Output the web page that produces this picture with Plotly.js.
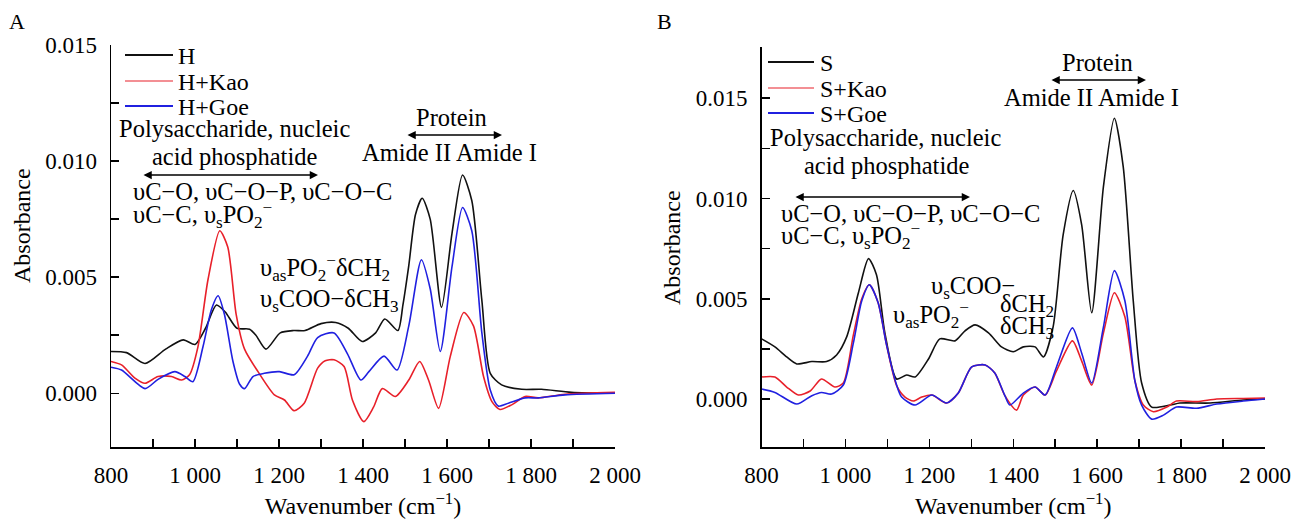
<!DOCTYPE html>
<html>
<head>
<meta charset="utf-8">
<script src="https://cdn.plot.ly/plotly-3.0.1.min.js"></script>
<style>html,body{margin:0;padding:0;background:#fff;}#chart{width:1302px;height:525px;}</style>
</head>
<body>
<div id="chart"></div>
<script>
// ---------- Panel A data ----------
const hX = [800, 837, 881, 930, 972, 1000, 1025, 1051, 1072, 1100, 1130, 1145, 1169, 1203, 1235, 1262, 1300, 1335, 1365, 1398, 1430, 1452, 1483, 1495, 1509, 1525, 1541, 1560, 1587, 1612, 1637, 1659, 1683, 1703, 1730, 1778, 1825, 1896, 2000];
const hY = [0.0018, 0.00175, 0.00128, 0.0019, 0.0023, 0.0021, 0.0028, 0.0038, 0.0035, 0.0028, 0.00276, 0.0025, 0.0019, 0.0026, 0.0027, 0.0027, 0.003, 0.00305, 0.0028, 0.00223, 0.0026, 0.0032, 0.0027, 0.0038, 0.0055, 0.0077, 0.0084, 0.0075, 0.0037, 0.0069, 0.0094, 0.0083, 0.004, 0.00086, 0.00036, 0.00017, 0.00017, 0.00004, 0.0];

const hKaoX = [800, 825, 857, 881, 912, 944, 968, 987, 1007, 1031, 1059, 1078, 1098, 1118, 1150, 1189, 1213, 1236, 1260, 1292, 1310, 1331, 1355, 1375, 1402, 1425, 1446, 1477, 1509, 1535, 1556, 1580, 1608, 1640, 1663, 1687, 1707, 1726, 1754, 1786, 1817, 1881, 2000];
const hKaoY = [0.00137, 0.00122, 0.00065, 0.00043, 0.00072, 0.00072, 0.00057, 0.0008, 0.002, 0.0049, 0.007, 0.0063, 0.0034, 0.0019, 0.00093, -0.00007, -0.00029, -0.00075, -0.00043, 0.00108, 0.0014, 0.00144, 0.00115, -0.0003, -0.00122, -0.0006, 0.0002, -0.00014, 0.00057, 0.00137, 0.00057, -0.00065, 0.0016, 0.00348, 0.0029, 0.00072, -0.00036, -0.0007, -0.0005, -0.00014, -0.0002, -0.00004, 0.00004];

const hGoeX = [800, 825, 881, 912, 952, 976, 995, 1019, 1039, 1055, 1070, 1090, 1106, 1118, 1138, 1165, 1201, 1236, 1268, 1292, 1331, 1363, 1395, 1414, 1450, 1481, 1509, 1539, 1560, 1584, 1612, 1637, 1659, 1683, 1703, 1722, 1746, 1786, 1817, 1881, 2000];
const hGoeY = [0.00112, 0.001, 0.0002, 0.0006, 0.00093, 0.00072, 0.0005, 0.002, 0.0036, 0.0042, 0.0034, 0.0014, 0.0004, 0.0002, 0.00072, 0.00086, 0.00093, 0.0008, 0.0016, 0.0024, 0.0026, 0.0017, 0.00057, 0.00093, 0.0016, 0.001, 0.0029, 0.00575, 0.0045, 0.0018, 0.00546, 0.008, 0.007, 0.0026, 0.00014, -0.00055, -0.00043, -0.0002, -0.0002, -0.00007, 0];

// ---------- Panel B data ----------
const sX = [800, 832, 860, 884, 920, 955, 979, 1003, 1031, 1055, 1074, 1094, 1122, 1146, 1166, 1198, 1225, 1261, 1285, 1309, 1341, 1372, 1400, 1424, 1452, 1472, 1495, 1519, 1543, 1563, 1587, 1615, 1641, 1662, 1686, 1706, 1730, 1774, 1797, 1869, 1948, 2000];
const sY = [0.003, 0.0026, 0.0021, 0.00175, 0.00187, 0.00187, 0.0022, 0.0031, 0.0053, 0.007, 0.0062, 0.0033, 0.001, 0.0012, 0.0011, 0.002, 0.003, 0.0029, 0.0034, 0.0037, 0.0033, 0.0026, 0.00236, 0.0026, 0.0026, 0.0021, 0.0036, 0.0082, 0.0104, 0.0087, 0.0043, 0.0106, 0.014, 0.0116, 0.0049, 0.0008, -0.0004, -0.0003, -0.0002, -0.0002, -0.00005, 0];

const sKaoX = [800, 832, 860, 888, 916, 943, 975, 995, 1019, 1039, 1057, 1078, 1098, 1122, 1142, 1162, 1182, 1206, 1241, 1269, 1301, 1333, 1356, 1380, 1408, 1424, 1452, 1476, 1503, 1541, 1563, 1587, 1615, 1641, 1666, 1690, 1710, 1734, 1766, 1789, 1837, 1885, 1948, 2000];
const sKaoY = [0.0011, 0.0011, 0.0006, 0.0002, 0.0004, 0.001, 0.0006, 0.0008, 0.0032, 0.005, 0.0057, 0.0048, 0.0027, 0.00067, 0.0001, -0.0001, 0.0001, 0.0002, -0.0002, 0.0003, 0.0016, 0.0017, 0.0013, 0.00017, -0.00055, 0.0002, 0.0006, 0.0002, 0.0014, 0.0029, 0.0019, 0.0007, 0.0033, 0.0053, 0.0041, 0.0009, -0.0003, -0.00063, -0.0004, -0.0001, -0.00013, 0, 0.00003, 0.00005];

const sGoeX = [800, 832, 884, 920, 943, 967, 995, 1019, 1039, 1057, 1078, 1098, 1122, 1134, 1166, 1206, 1241, 1269, 1301, 1333, 1356, 1380, 1392, 1424, 1452, 1476, 1503, 1541, 1563, 1587, 1615, 1641, 1666, 1690, 1706, 1730, 1758, 1789, 1837, 1885, 1948, 2000];
const sGoeY = [0.0005, 0.00033, -0.00025, 0.00017, 0.00033, 0.00025, 0.0007, 0.0028, 0.0049, 0.0057, 0.0048, 0.0027, 0.0007, 0.0001, -0.0003, 0.0002, -0.0002, 0.0003, 0.0016, 0.0017, 0.0013, 0.00017, -0.0003, 0.0003, 0.0006, 0.0002, 0.0016, 0.00355, 0.0023, 0.0008, 0.0036, 0.0064, 0.0049, 0.0009, -0.0003, -0.001, -0.0008, -0.0004, -0.00046, -0.00025, -0.0001, 0];

// ---------- names and tick labels ----------
const namesA = ['H', 'H+Kao', 'H+Goe'];
const namesB = ['S', 'S+Kao', 'S+Goe'];
const xTickVals = [800, 1000, 1200, 1400, 1600, 1800, 2000];
const xTickText = ['800', '1 000', '1 200', '1 400', '1 600', '1 800', '2 000'];
const yTickVals = [0, 0.005, 0.010, 0.015];
const yTickText = ['0.000', '0.005', '0.010', '0.015'];

// ---------- styling ----------
const W = 1302, H = 525;
const FONT = 'Liberation Serif, Times New Roman, serif';
const COLORS = ['#111111', '#e8202a', '#2020e0'];
const px = v => v / W;
const py = v => 1 - v / H;

function tr(x, y, name, color, xa, ya) {
  return {x: x, y: y, name: name, type: 'scatter', mode: 'lines',
    line: {color: color, width: 1.6, shape: 'spline', smoothing: 0.7},
    xaxis: xa, yaxis: ya, showlegend: false, hoverinfo: 'skip'};
}

const data = [
  tr(hX, hY, namesA[0], COLORS[0], 'x', 'y'),
  tr(hKaoX, hKaoY, namesA[1], COLORS[1], 'x', 'y'),
  tr(hGoeX, hGoeY, namesA[2], COLORS[2], 'x', 'y'),
  tr(sX, sY, namesB[0], COLORS[0], 'x2', 'y2'),
  tr(sKaoX, sKaoY, namesB[1], COLORS[1], 'x2', 'y2'),
  tr(sGoeX, sGoeY, namesB[2], COLORS[2], 'x2', 'y2')
];

function xaxis(dom, anchor) {
  return {domain: dom, anchor: anchor, range: [800, 2000], showgrid: false, zeroline: false,
    showline: true, linecolor: '#000', linewidth: 1.5, mirror: false,
    ticks: 'inside', ticklen: 8, tickwidth: 1.5, tickcolor: '#000',
    tickmode: 'array', tickvals: xTickVals, ticktext: xTickText, ticklabelstandoff: 7,
    minor: {tickmode: 'linear', tick0: 800, dtick: 100, ticks: 'inside', ticklen: 8, tickwidth: 1.5, tickcolor: '#000', showgrid: false},
    tickfont: {size: 23},
    title: {text: 'Wavenumber (cm<sup>−1</sup>)', font: {size: 24}, standoff: 10}};
}
function yaxis(dom, anchor, range) {
  return {domain: dom, anchor: anchor, range: range, showgrid: false, zeroline: false,
    showline: true, linecolor: '#000', linewidth: 1.5, mirror: false,
    ticks: 'inside', ticklen: 8, tickwidth: 1.5, tickcolor: '#000',
    tickmode: 'array', tickvals: yTickVals, ticktext: yTickText, ticklabelstandoff: 8,
    minor: {tickmode: 'linear', tick0: 0, dtick: 0.0025, ticks: 'inside', ticklen: 8, tickwidth: 1.5, tickcolor: '#000', showgrid: false},
    tickfont: {size: 23}};
}

const FS = 24.5;
function txt(text, x, y, xanchor, size) {
  return {text: text, xref: 'paper', yref: 'paper', x: px(x), y: py(y),
    xanchor: xanchor || 'center', yanchor: 'middle', showarrow: false, font: {size: size || FS}};
}
function arrow(x1, x2, y) {
  return {text: '', xref: 'paper', yref: 'paper', x: px(x2), y: py(y), ax: -(x2 - x1), ay: 0,
    axref: 'pixel', ayref: 'pixel', showarrow: true, arrowside: 'end+start',
    arrowhead: 2, arrowsize: 1.1, arrowwidth: 1.5, arrowcolor: '#000', standoff: 0, startstandoff: 0};
}

// manual legends (line samples + labels)
const shapes = [];
const annotations = [];
function legend(names, x0, x1, ys, tx) {
  names.forEach((n, i) => {
    shapes.push({type: 'line', xref: 'paper', yref: 'paper', x0: px(x0), x1: px(x1), y0: py(ys[i]), y1: py(ys[i]),
      line: {color: COLORS[i], width: i === 1 ? 1.2 : 1.8}});
    annotations.push(txt(n, tx, ys[i] + 1, 'left', 24));
  });
}
legend(namesA, 125, 173, [55, 81, 106], 176);
legend(namesB, 768, 814, [62, 88, 113], 818);

// y-axis titles
const yTitleA = txt('Absorbance', 22, 226, 'center', 24);
yTitleA.textangle = -90;
const yTitleB = txt('Absorbance', 672, 248, 'center', 24);
yTitleB.textangle = -90;

annotations.push(
  yTitleA, yTitleB,
  txt('A', 17, 22, 'center', 22),
  txt('B', 664, 22, 'center', 22),
  // Panel A
  txt('Polysaccharide, nucleic', 235, 128),
  txt('acid phosphatide', 234, 157),
  arrow(142, 318, 175),
  txt('υC−O, υC−O−P, υC−O−C', 131, 191, 'left'),
  txt('υC−C, υ<sub>s</sub>PO<sub>2</sub><sup>−</sup>', 131, 215, 'left'),
  txt('Protein', 452, 118),
  arrow(406, 502, 135),
  txt('Amide II Amide I', 449, 152),
  txt('υ<sub>as</sub>PO<sub>2</sub><sup>−</sup>δCH<sub>2</sub>', 258, 268, 'left'),
  txt('υ<sub>s</sub>COO−δCH<sub>3</sub>', 258, 300, 'left'),
  // Panel B
  txt('Polysaccharide, nucleic', 885, 137),
  txt('acid phosphatide', 886, 166),
  arrow(794, 970, 197),
  txt('υC−O, υC−O−P, υC−O−C', 779, 214, 'left'),
  txt('υC−C, υ<sub>s</sub>PO<sub>2</sub><sup>−</sup>', 779, 236, 'left'),
  txt('Protein', 1097, 62),
  arrow(1050, 1146, 80),
  txt('Amide II Amide I', 1091, 97),
  txt('υ<sub>s</sub>COO−', 929, 287, 'left'),
  txt('υ<sub>as</sub>PO<sub>2</sub><sup>−</sup>', 891, 315, 'left'),
  txt('δCH<sub>2</sub>', 998, 305, 'left'),
  txt('δCH<sub>3</sub>', 998, 327, 'left')
);

const layout = {
  width: W, height: H, margin: {l: 0, r: 0, t: 0, b: 0},
  paper_bgcolor: '#fff', plot_bgcolor: 'rgba(0,0,0,0)',
  font: {family: FONT, size: 23, color: '#000'},
  showlegend: false,
  xaxis: xaxis([px(111), px(615)], 'y'),
  yaxis: yaxis([1 - 447 / H, 1 - 45 / H], 'x', [-0.002315, 0.015]),
  xaxis2: xaxis([px(761.5), px(1265)], 'y2'),
  yaxis2: yaxis([1 - 447 / H, 1 - 47 / H], 'x2', [-0.00239, 0.01755]),
  shapes: shapes,
  annotations: annotations
};

Plotly.newPlot('chart', data, layout, {staticPlot: true, displayModeBar: false});
</script>
</body>
</html>
